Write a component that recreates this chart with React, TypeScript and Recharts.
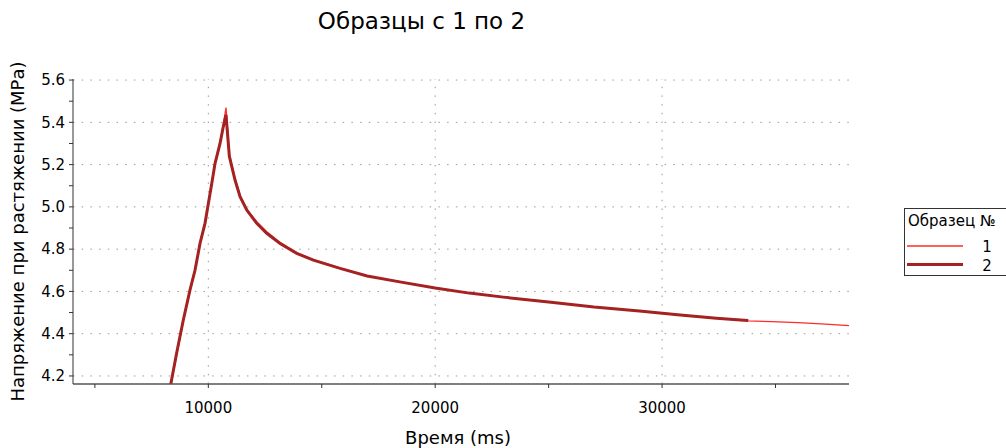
import {
  LineChart,
  Line,
  XAxis,
  YAxis,
  ReferenceLine,
  Legend,
  Label,
} from 'recharts';

/* ------------------------------------------------------------------ */
/*  Data                                                               */
/* ------------------------------------------------------------------ */
const timeMs = [
  8000, 8342, 8606, 8897, 9193, 9413, 9634, 9854, 10000, 10150, 10295, 10516,
  10661, 10780, 10926, 11177, 11398, 11693, 12134, 12575, 13162, 13898, 14631,
  15808, 17000, 18500, 20000, 21500, 23000, 25000, 27000, 29000, 30800, 32400,
  33450, 33800, 34850, 36000, 37200, 38240,
];

const sample1 = [
  3.96, 4.15, 4.3, 4.46, 4.6, 4.705, 4.83, 4.93, 5.02, 5.115, 5.21, 5.305,
  5.39, 5.47, 5.25, 5.135, 5.055, 4.99, 4.93, 4.882, 4.832, 4.783, 4.75,
  4.71, 4.674, 4.645, 4.617, 4.593, 4.574, 4.551, 4.527, 4.508, 4.489, 4.474,
  4.466, 4.461, 4.457, 4.452, 4.445, 4.438,
];

const sample2 = [
  3.97, 4.16, 4.31, 4.465, 4.607, 4.7, 4.827, 4.922, 5.015, 5.11, 5.205, 5.3,
  5.38, 5.435, 5.24, 5.127, 5.048, 4.985, 4.922, 4.875, 4.827, 4.78, 4.748,
  4.709, 4.673, 4.644, 4.616, 4.592, 4.573, 4.55, 4.526, 4.507, 4.488, 4.473,
  4.465, 4.462, null, null, null, null,
];

const xTicks = [5000, 10000, 15000, 20000, 25000, 30000, 35000];
const xGrid = [10000, 20000, 30000];
const yTicks = [4.2, 4.3, 4.4, 4.5, 4.6, 4.7, 4.8, 4.9, 5.0, 5.1, 5.2, 5.3, 5.4, 5.5, 5.6];
const yGrid = [4.2, 4.4, 4.6, 4.8, 5.0, 5.2, 5.4, 5.6];

const chartData = timeMs.map((t, i) => ({ t, s1: sample1[i], s2: sample2[i] }));

const FONT = '"DejaVu Sans", Verdana, sans-serif';
const GRID = '#9a9a9a';
const FRAME = '#555';

/* ------------------------------------------------------------------ */
/*  Legend box                                                         */
/* ------------------------------------------------------------------ */
function LegendBox({ payload }: any) {
  const items = payload || [];
  return (
    <div
      style={{
        border: '1px solid #333',
        background: '#fff',
        width: 120,
        height: 68,
        boxSizing: 'border-box',
      }}
    >
      <svg width={120} height={66} style={{ display: 'block' }}>
        <text x={3} y={17} fontSize={15} fontFamily={FONT} fill="#000">
          Образец №
        </text>
        {items.map((it: any, i: number) => {
          const y = 37 + i * 18.5;
          return (
            <g key={i}>
              <line
                x1={2}
                x2={58}
                y1={y}
                y2={y}
                stroke={it.color}
                strokeWidth={i === 0 ? 1.3 : 3}
              />
              <text
                x={82}
                y={y + 6}
                fontSize={15}
                fontFamily={FONT}
                textAnchor="middle"
                fill="#000"
              >
                {it.value}
              </text>
            </g>
          );
        })}
      </svg>
    </div>
  );
}

/* ------------------------------------------------------------------ */
/*  App                                                                */
/* ------------------------------------------------------------------ */
export default function App() {
  return (
    <div style={{ position: 'absolute', left: 0, top: 0, width: 1006, height: 448, background: '#fff' }}>
      <div
        style={{
          position: 'absolute',
          left: 0,
          width: 843,
          top: 8,
          textAlign: 'center',
          fontFamily: FONT,
          fontSize: 23,
          color: '#000',
        }}
      >
        Образцы с 1 по 2
      </div>
      <LineChart
        width={1006}
        height={448}
        data={chartData}
        margin={{ top: 79, right: 157, left: 0, bottom: 0 }}
      >
        <XAxis
          dataKey="t"
          type="number"
          domain={[4035, 38240]}
          allowDataOverflow
          ticks={xTicks}
          interval={0}
          tickFormatter={(v: number) => (v % 10000 === 0 ? String(v) : '')}
          height={64}
          tickSize={4}
          tickMargin={14}
          axisLine={{ stroke: FRAME, strokeWidth: 1.5 }}
          tickLine={{ stroke: '#333' }}
          tick={{ fontSize: 15, fontFamily: FONT, fill: '#000' }}
        >
          <Label
            value="Время (ms)"
            content={({ viewBox }: any) => (
              <text
                x={viewBox.x + viewBox.width / 2 - 3}
                y={viewBox.y + 60}
                textAnchor="middle"
                fontSize={18}
                fontFamily={FONT}
                fill="#000"
              >
                Время (ms)
              </text>
            )}
          />
        </XAxis>
        <XAxis
          xAxisId="top"
          orientation="top"
          dataKey="t"
          type="number"
          domain={[4035, 38240]}
          height={0}
          tick={false}
          tickLine={false}
          axisLine={{ stroke: FRAME, strokeWidth: 1.5 }}
        />
        <YAxis
          type="number"
          domain={[4.162, 5.605]}
          allowDataOverflow
          ticks={yTicks}
          interval={0}
          tickFormatter={(v: number) => (Math.round(v * 10) % 2 === 0 ? v.toFixed(1) : '')}
          width={73}
          tickSize={4}
          tickMargin={4}
          axisLine={{ stroke: '#333' }}
          tickLine={{ stroke: '#333' }}
          tick={{ fontSize: 15, fontFamily: FONT, fill: '#000' }}
        >
          <Label
            value="Напряжение при растяжении (МРа)"
            content={({ viewBox }: any) => {
              const cx = 24;
              const cy = viewBox.y + viewBox.height / 2;
              return (
                <text
                  x={cx}
                  y={cy}
                  transform={`rotate(-90 ${cx} ${cy})`}
                  textAnchor="middle"
                  fontSize={18}
                  fontFamily={FONT}
                  fill="#000"
                >
                  Напряжение при растяжении (МРа)
                </text>
              );
            }}
          />
        </YAxis>
        <YAxis
          yAxisId="right"
          orientation="right"
          type="number"
          domain={[4.162, 5.605]}
          width={0}
          tick={false}
          tickLine={false}
          axisLine={{ stroke: FRAME, strokeWidth: 2 }}
        />
        {yGrid.map((v) => (
          <ReferenceLine key={'y' + v} y={v} stroke={GRID} strokeDasharray="1.5 7.2" />
        ))}
        {xGrid.map((v) => (
          <ReferenceLine key={'x' + v} x={v} stroke={GRID} strokeDasharray="1.5 7.2" />
        ))}
        <Legend
          layout="vertical"
          align="center"
          verticalAlign="middle"
          content={<LegendBox />}
          wrapperStyle={{ left: 904, top: 208, width: 120 }}
        />
        <Line
          name="1"
          dataKey="s1"
          type="linear"
          stroke="#ff2a2a"
          strokeWidth={1.3}
          dot={false}
          isAnimationActive={false}
        />
        <Line
          name="2"
          dataKey="s2"
          type="linear"
          stroke="#a52222"
          strokeWidth={3}
          dot={false}
          isAnimationActive={false}
        />
      </LineChart>
    </div>
  );
}
